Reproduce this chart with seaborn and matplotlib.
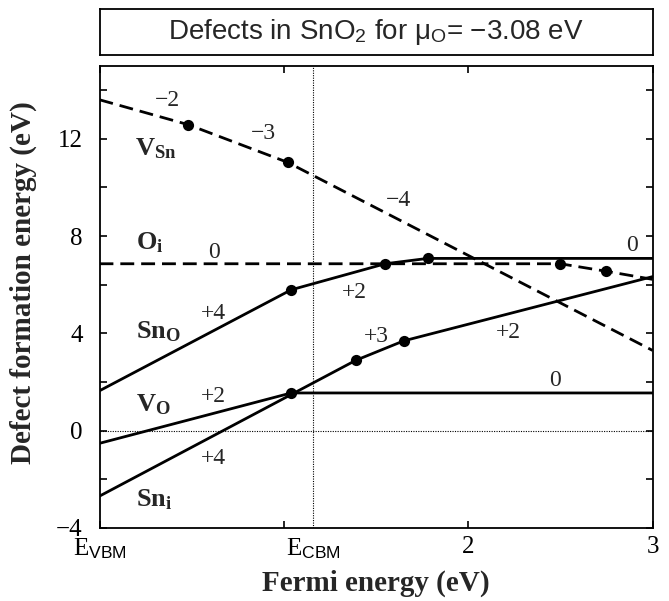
import numpy as np
import pandas as pd
import matplotlib
matplotlib.use("Agg")
import matplotlib.pyplot as plt
import seaborn as sns

# Kink points of each defect's formation energy vs Fermi level (eV)
vsn_x = [0.0, 0.48, 1.02, 3.0]
vsn_y = [13.6, 12.58, 11.03, 3.3]
oi_x = [0.0, 2.50, 2.75, 3.0]
oi_y = [6.86, 6.86, 6.55, 6.22]
sno_x = [0.0, 1.04, 1.55, 1.78, 3.0]
sno_y = [1.64, 5.79, 6.86, 7.08, 7.08]
vo_x = [0.0, 1.04, 3.0]
vo_y = [-0.52, 1.55, 1.55]
sni_x = [0.0, 1.39, 1.65, 3.0]
sni_y = [-2.69, 2.89, 3.69, 6.33]

E_CBM = 1.16

defects = {
    "V_Sn": (vsn_x, vsn_y, "dashed"),
    "O_i": (oi_x, oi_y, "dashed"),
    "Sn_O": (sno_x, sno_y, "solid"),
    "V_O": (vo_x, vo_y, "solid"),
    "Sn_i": (sni_x, sni_y, "solid"),
}

# charge state labels: (text, x, y)
charge_labels = [
    ("\u22122", 0.37, 13.55), ("\u22123", 0.89, 12.22), ("\u22124", 1.62, 9.48),
    ("0", 0.62, 7.33), ("+2", 1.38, 5.69), ("+4", 0.62, 4.81),
    ("+2", 0.62, 1.40), ("+4", 0.62, -1.15), ("+3", 1.50, 3.86),
    ("+2", 2.22, 4.04), ("0", 2.89, 7.60), ("0", 2.47, 2.06),
]
# defect names: (mathtext, x, baseline y)
name_labels = [
    (r"$\mathbf{V}_{\mathbf{Sn}}$", 0.19, 11.32),
    (r"$\mathbf{O}_{\mathbf{i}}$", 0.20, 7.43),
    (r"$\mathbf{Sn}_{\mathbf{O}}$", 0.20, 3.80),
    (r"$\mathbf{V}_{\mathbf{O}}$", 0.20, 0.78),
    (r"$\mathbf{Sn}_{\mathbf{i}}$", 0.20, -3.12),
]

sns.set_theme(style="ticks")
plt.rcParams["font.family"] = ["Liberation Serif", "DejaVu Serif"]
plt.rcParams["mathtext.fontset"] = "custom"
plt.rcParams["mathtext.rm"] = "Liberation Serif"
plt.rcParams["mathtext.bf"] = "Liberation Serif:bold"
plt.rcParams["mathtext.it"] = "Liberation Serif:italic"
plt.rcParams["mathtext.sf"] = "Liberation Sans"

fig = plt.figure(figsize=(6.69, 6.01), dpi=100)
ax = fig.add_axes([99.5 / 669, (601 - 528) / 601, 553 / 669, (528 - 65.7) / 601])

# reference lines
ax.axvline(E_CBM, color="black", lw=0.8, ls=(0, (1, 1.2)), zorder=1)
ax.axhline(0, color="black", lw=0.8, ls=(0, (1, 1.2)), zorder=1)

for name, (xs, ys, style) in defects.items():
    ls = (0, (5, 2.5)) if style == "dashed" else "-"
    df = pd.DataFrame({"x": xs, "y": ys})
    sns.lineplot(data=df, x="x", y="y", ax=ax, color="black", lw=2,
                 linestyle=ls, sort=False, estimator=None, zorder=3)
    # transition levels = interior kinks
    sns.scatterplot(x=xs[1:-1], y=ys[1:-1], ax=ax, color="black", s=65,
                    edgecolor="black", linewidth=0, zorder=5)

for txt, x, y in charge_labels:
    ax.text(x, y, txt, fontsize=17, ha="center", va="center")
for txt, x, y in name_labels:
    ax.text(x, y, txt, fontsize=19, ha="left", va="baseline")

ax.set_xlim(0, 3)
ax.set_ylim(-4, 15)
ax.set_xticks([0, 1, E_CBM, 2, 3])
ax.set_xticklabels([r"E$_\mathsf{VBM}$", "", r"E$_\mathsf{CBM}$", "2", "3"])
yt = np.arange(-4, 15, 2)
ax.set_yticks(yt)
ax.set_yticklabels([str(v).replace("-", "\u2212") if v % 4 == 0 else "" for v in yt])
ax.tick_params(direction="in", top=True, right=True, length=5, width=1.2,
               labelsize=18, colors="black")
ax.tick_params(axis="y", pad=12)
ax.tick_params(axis="x", pad=6)
cb = ax.xaxis.get_major_ticks()[2]
cb.tick1line.set_visible(False)
cb.tick2line.set_visible(False)
for s in ax.spines.values():
    s.set_linewidth(1.3)
    s.set_color("black")

ax.set_xlabel("Fermi energy (eV)", fontsize=21, fontweight="bold")
ax.set_ylabel("Defect formation energy (eV)", fontsize=21, fontweight="bold")
ax.yaxis.set_label_coords(-0.113, 0.53)
ax.xaxis.set_label_coords(0.5, -0.09)

# boxed title above the plot
tax = fig.add_axes([99.5 / 669, 1 - 55 / 601, 553 / 669, 45.7 / 601])
tax.set_xticks([])
tax.set_yticks([])
for s in tax.spines.values():
    s.set_linewidth(1.3)
    s.set_color("black")
tax.text(0.5, 0.5, "Defects in SnO$_\\mathsf{2}$ for \u03bc$_\\mathsf{O}$= \u22123.08 eV",
         ha="center", va="center", fontsize=20, family="Liberation Sans")

fig.savefig("out.png", dpi=100)
